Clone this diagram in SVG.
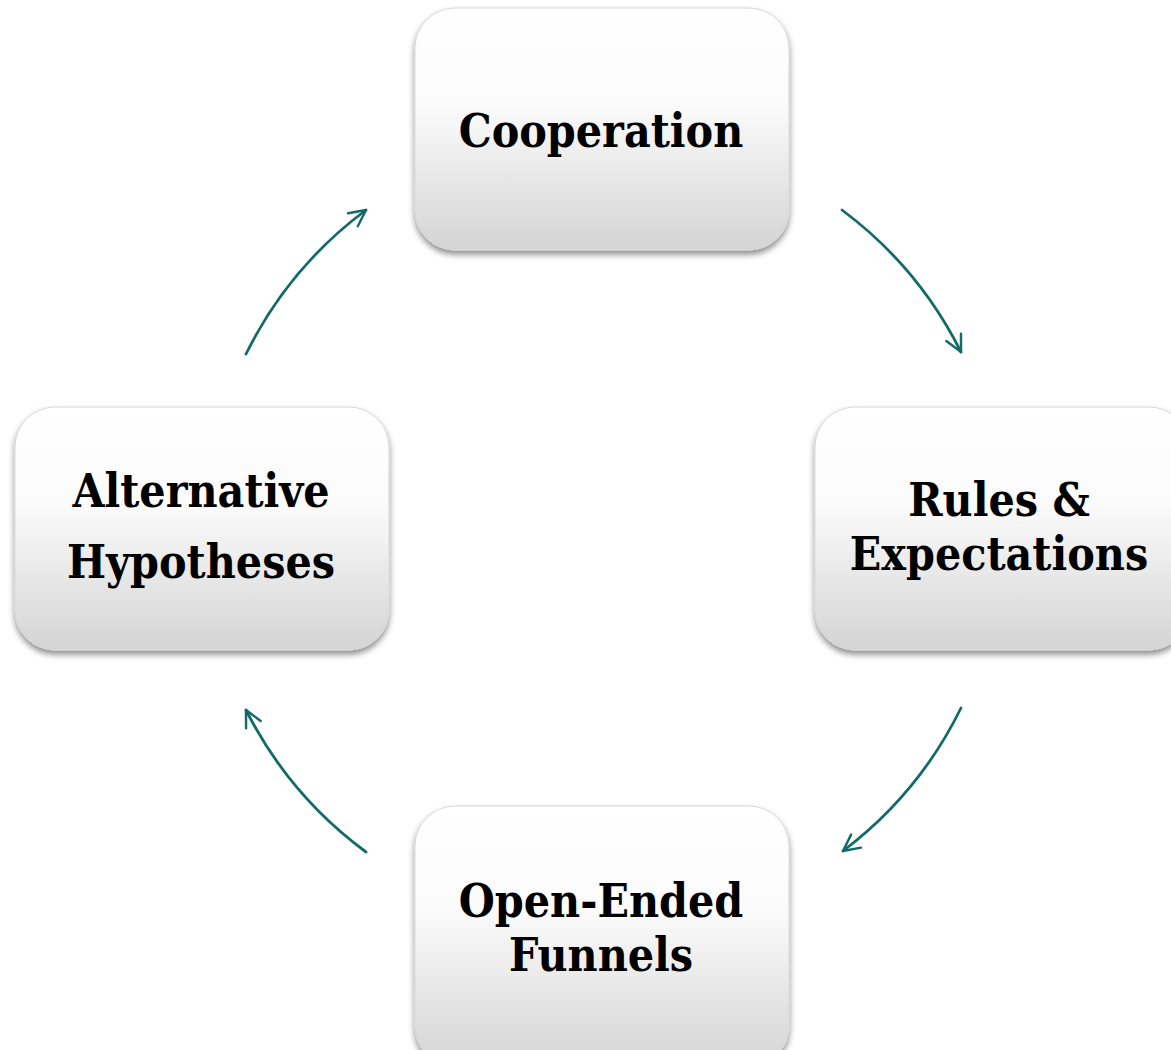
<svg xmlns="http://www.w3.org/2000/svg" width="1171" height="1050" viewBox="0 0 1171 1050">
  <style>
    .box { fill: url(#boxFill); stroke: #d8d8d8; stroke-width: 1; filter: url(#shadow); }
    .label { font-family: "DejaVu Serif Condensed", "DejaVu Serif", "Liberation Serif", serif; font-stretch: condensed; font-weight: bold; font-size: 46px; fill: #000; text-anchor: middle; }
    .flow { fill: none; stroke: #136b68; stroke-width: 2.8; stroke-linecap: round; marker-end: url(#head); }
  </style>
  <defs>
    <linearGradient id="boxFill" x1="0" y1="0" x2="0" y2="1">
      <stop offset="0" stop-color="#ffffff"/>
      <stop offset="0.4" stop-color="#fbfbfb"/>
      <stop offset="1" stop-color="#d4d4d4"/>
    </linearGradient>
    <filter id="shadow" x="-10%" y="-10%" width="120%" height="125%">
      <feDropShadow dx="0" dy="4" stdDeviation="3" flood-color="#000" flood-opacity="0.45"/>
    </filter>
    <marker id="head" viewBox="0 0 12 12" refX="11" refY="6" markerWidth="7" markerHeight="7" markerUnits="strokeWidth" orient="auto">
      <path d="M1,1 L11,6 L1,11" fill="none" stroke="#136b68" stroke-width="1.5" stroke-linecap="round" stroke-linejoin="round"/>
    </marker>
  </defs>

  <!-- cycle connectors: arcs of one circle around the centre -->
  <g id="connectors">
    <path class="flow" d="M842,210 A401,401 0 0 1 961,352"/>
    <path class="flow" d="M961,708 A401,401 0 0 1 843,851"/>
    <path class="flow" d="M366,852 A401,401 0 0 1 246,710"/>
    <path class="flow" d="M246,354 A401,401 0 0 1 366,210"/>
  </g>

  <g id="cooperation">
    <rect class="box" x="415" y="8" width="374" height="242" rx="40" ry="40"/>
    <text class="label" x="601" y="147">Cooperation</text>
  </g>

  <g id="rules">
    <rect class="box" x="815" y="407" width="374" height="243" rx="40" ry="40"/>
    <text class="label" x="999" y="516">Rules &amp;</text>
    <text class="label" x="999" y="570">Expectations</text>
  </g>

  <g id="funnels">
    <rect class="box" x="415" y="806" width="374" height="260" rx="40" ry="40"/>
    <text class="label" x="601" y="917">Open-Ended</text>
    <text class="label" x="601" y="971">Funnels</text>
  </g>

  <g id="hypotheses">
    <rect class="box" x="15" y="407" width="374" height="243" rx="40" ry="40"/>
    <text class="label" x="201" y="507">Alternative</text>
    <text class="label" x="201" y="578">Hypotheses</text>
  </g>
</svg>
